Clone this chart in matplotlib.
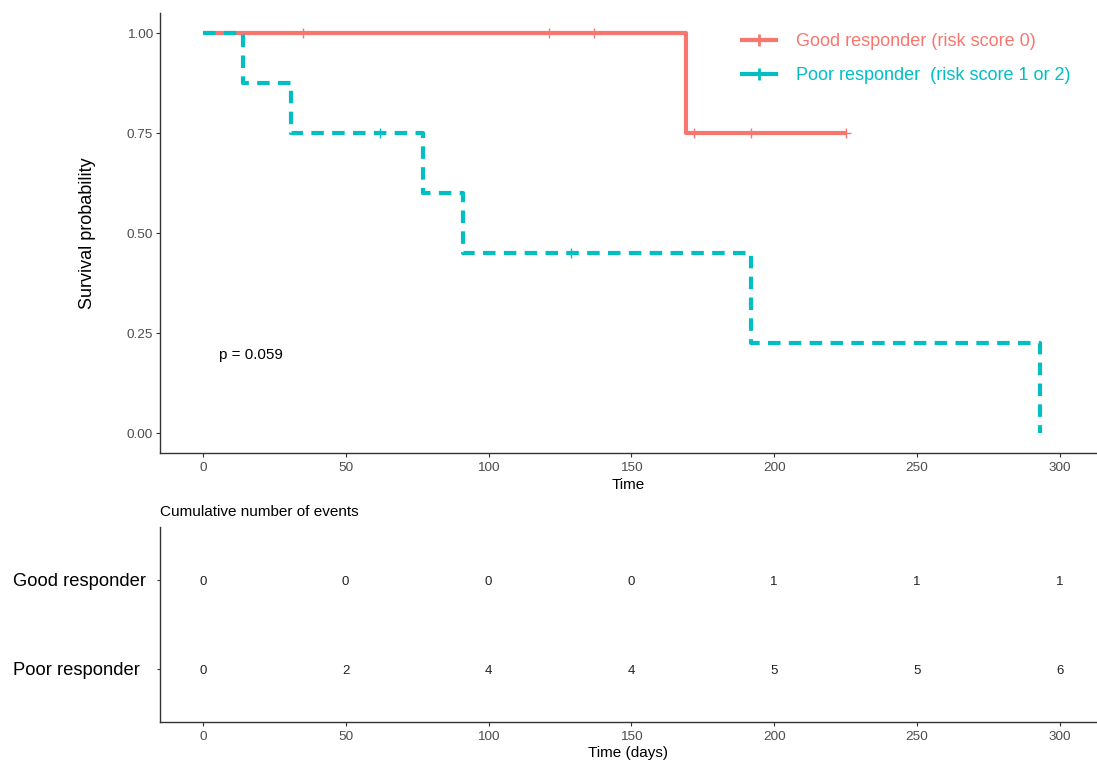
import matplotlib
matplotlib.use("Agg")
import matplotlib.pyplot as plt
from matplotlib.lines import Line2D
from matplotlib.transforms import blended_transform_factory

plt.rcParams['font.family'] = ['Liberation Sans', 'DejaVu Sans']

# ---- data ----
good_times = [0, 169, 225]
good_surv = [1.0, 0.75, 0.75]
good_cens_t = [35, 121, 137, 172, 192, 225]
good_cens_s = [1.0, 1.0, 1.0, 0.75, 0.75, 0.75]

poor_times = [0, 14, 31, 77, 91, 192, 293]
poor_surv = [1.0, 0.875, 0.75, 0.60, 0.45, 0.225, 0.0]
poor_cens_t = [62, 129]
poor_cens_s = [0.75, 0.45]

table_times = [0, 50, 100, 150, 200, 250, 300]
good_events = [0, 0, 0, 0, 1, 1, 1]
poor_events = [0, 2, 4, 4, 5, 5, 6]

groups = ["Good responder", "Poor responder"]
legend_labels = ["Good responder (risk score 0)", "Poor responder  (risk score 1 or 2)"]
y_ticks = [0.0, 0.25, 0.5, 0.75, 1.0]
y_ticklabels = ["0.00", "0.25", "0.50", "0.75", "1.00"]

RED = "#F8766D"
TEAL = "#00BFC4"
TICKC = "#4D4D4D"
SPINEC = "#333333"

fig = plt.figure(figsize=(10.97, 7.63), dpi=100)
W, H = 1097, 763

def ax_rect(l, t, r, b):
    return [l / W, 1 - b / H, (r - l) / W, (b - t) / H]

ax = fig.add_axes(ax_rect(160, 13, 1097, 453))
xlim = (-15, 313)

ax.step(good_times, good_surv, where='post', color=RED, lw=3.0, solid_capstyle='butt')
ax.plot(good_cens_t, good_cens_s, ls='none', marker='+', ms=7, mew=1.0, color=RED)
ax.step(poor_times, poor_surv, where='post', color=TEAL, lw=3.0, dashes=(3, 2))
ax.plot(poor_cens_t, poor_cens_s, ls='none', marker='+', ms=7, mew=1.0, color=TEAL)

ax.set_xlim(*xlim)
ax.set_ylim(-0.05, 1.05)
ax.set_xticks(table_times)
ax.set_yticks(y_ticks)
ax.set_yticklabels(y_ticklabels)
for s in ['top', 'right']:
    ax.spines[s].set_visible(False)
for s in ['left', 'bottom']:
    ax.spines[s].set_color(SPINEC)
    ax.spines[s].set_linewidth(1.0)
ax.tick_params(axis='both', colors=SPINEC, labelcolor=TICKC, labelsize=9.7, length=3, width=0.8)
ax.tick_params(axis='y', pad=2.0)
ax.set_ylabel("Survival probability", fontsize=13, labelpad=22)
ax.set_xlabel("Time", fontsize=11, labelpad=2.5)
ax.text(5.5, 0.195, "p = 0.059", fontsize=11, va='center', ha='left')

handles = [Line2D([], [], color=RED, lw=3, marker='+', ms=9, mew=2),
           Line2D([], [], color=TEAL, lw=3, marker='+', ms=9, mew=2)]
leg = fig.legend(handles, legend_labels, loc='upper left', bbox_to_anchor=(742 / W, 1 - 33 / H),
                 frameon=False, fontsize=13, handlelength=1.9, handletextpad=1.1,
                 labelspacing=0.95, borderpad=0, borderaxespad=0)
for t, c in zip(leg.get_texts(), [RED, TEAL]):
    t.set_color(c)

# ---- table ----
at = fig.add_axes(ax_rect(160, 527, 1097, 722))
for i, vals in enumerate([good_events, poor_events]):
    for x, v in zip(table_times, vals):
        at.text(x, i + 1.02, str(v), ha='center', va='center', fontsize=9.5, color='#222222')
at.set_xlim(*xlim)
at.set_ylim(2.596, 0.404)
at.set_yticks([1, 2])
at.set_yticklabels([])
at.set_xticks(table_times)
trans = blended_transform_factory(fig.transFigure, at.transData)
for i, g in enumerate(groups):
    at.text(13 / W, i + 1.02, g, transform=trans, ha='left', va='center', fontsize=13.2, color='black')
for s in ['top', 'right']:
    at.spines[s].set_visible(False)
for s in ['left', 'bottom']:
    at.spines[s].set_color(SPINEC)
    at.spines[s].set_linewidth(1.0)
at.tick_params(axis='x', colors=SPINEC, labelcolor=TICKC, labelsize=9.7, length=3, width=0.8)
at.tick_params(axis='y', colors=SPINEC, length=2.5, width=0.8)
at.set_xlabel("Time (days)", fontsize=11, labelpad=2.5)
at.set_title("Cumulative number of events", fontsize=11, loc='left', pad=8)

fig.savefig("out.png", dpi=100)
